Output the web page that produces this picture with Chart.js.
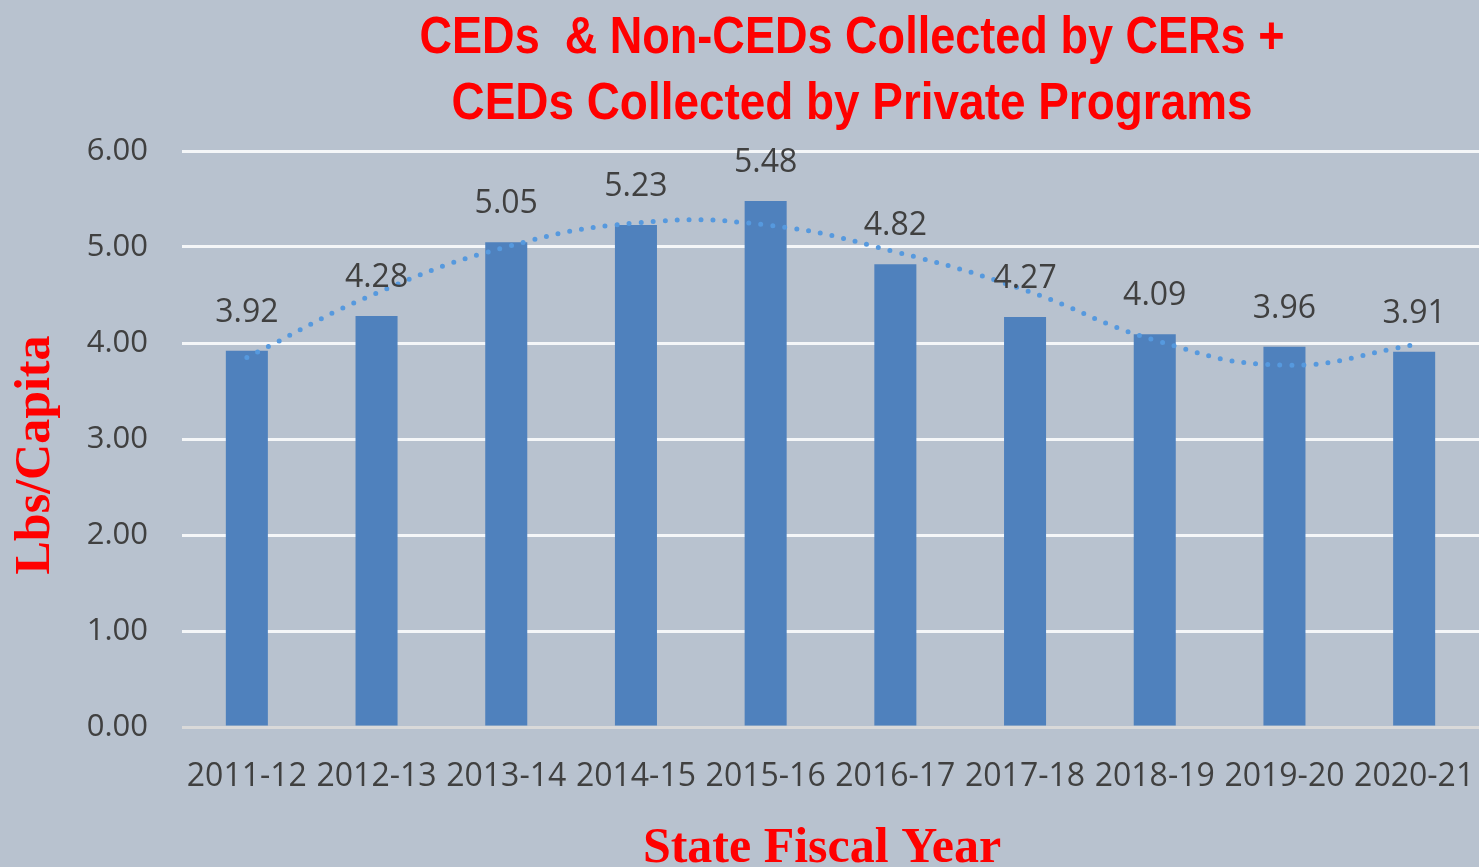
<!DOCTYPE html>
<html>
<head>
<meta charset="utf-8">
<script src="https://cdn.jsdelivr.net/npm/chart.js@4.4.1/dist/chart.umd.min.js"></script>
<style>
    html, body { margin: 0; padding: 0; background: #b8c2cf; }
    #wrap { width: 1479px; height: 867px; position: relative; }
</style>
</head>
<body>
<div id="wrap"><canvas id="cedChart"></canvas></div>
<script>
        // Data
        const fiscalYears = ['2011-12', '2012-13', '2013-14', '2014-15', '2015-16', '2016-17', '2017-18', '2018-19', '2019-20', '2020-21'];
        const lbsPerCapita = [3.92, 4.28, 5.05, 5.23, 5.48, 4.82, 4.27, 4.09, 3.96, 3.91];
        // polynomial trendline at each year
        const trendValues = [3.85, 4.52, 5.00, 5.25, 5.23, 4.95, 4.55, 4.03, 3.77, 3.98];
        const yTicks = [0, 1, 2, 3, 4, 5, 6];

        const titleLines = ['CEDs  & Non-CEDs Collected by CERs +', 'CEDs Collected by Private Programs'];
        const yTitle = 'Lbs/Capita';
        const xTitle = 'State Fiscal Year';

        const RED = '#ff0000';
        const TEXT = '#404040';

        // Background fill
        const bgPlugin = {
            id: 'bg',
            beforeDraw(chart) {
                const ctx = chart.ctx;
                ctx.save();
                ctx.fillStyle = '#b8c2cf';
                ctx.fillRect(0, 0, chart.width, chart.height);
                ctx.restore();
            }
        };

        // Titles (main + axis), drawn by hand so they sit where the original has them
        const titlesPlugin = {
            id: 'titles',
            afterDraw(chart) {
                const ctx = chart.ctx;
                ctx.save();
                ctx.fillStyle = RED;
                ctx.textAlign = 'center';
                ctx.textBaseline = 'alphabetic';

                // main title, squeezed to the original width if the font runs wide
                ctx.font = 'bold 52px "Liberation Sans Narrow", "Liberation Sans", sans-serif';
                const targets = [865, 801];
                const baselines = [53, 119];
                titleLines.forEach((line, i) => {
                    const w = ctx.measureText(line).width;
                    const sx = Math.min(1, targets[i] / w);
                    ctx.save();
                    ctx.translate(852, baselines[i]);
                    ctx.scale(sx, 1);
                    ctx.fillText(line, 0, 0);
                    ctx.restore();
                });

                ctx.font = 'bold 50px "Liberation Serif", "Times New Roman", serif';
                // x axis title
                ctx.fillText(xTitle, 822, 862);
                // y axis title
                ctx.save();
                ctx.translate(49, 455);
                ctx.rotate(-Math.PI / 2);
                ctx.fillText(yTitle, 0, 0);
                ctx.restore();
                ctx.restore();
            }
        };

        // Value labels above the bars
        const valueLabels = {
            id: 'valueLabels',
            afterDatasetsDraw(chart) {
                const ctx = chart.ctx;
                const meta = chart.getDatasetMeta(0);
                ctx.save();
                ctx.font = '32px "Open Sans", sans-serif';
                ctx.fillStyle = TEXT;
                ctx.textAlign = 'center';
                ctx.textBaseline = 'alphabetic';
                meta.data.forEach((bar, i) => {
                    ctx.fillText(lbsPerCapita[i].toFixed(2), bar.x, bar.y - 29);
                });
                ctx.restore();
            }
        };

        const ctx = document.getElementById('cedChart').getContext('2d');
        new Chart(ctx, {
            data: {
                labels: fiscalYears,
                datasets: [
                    {
                        type: 'bar',
                        label: 'Lbs/Capita',
                        data: lbsPerCapita,
                        backgroundColor: '#4f81bd',
                        categoryPercentage: 1,
                        barPercentage: 0.324,
                        order: 2
                    },
                    {
                        type: 'line',
                        label: 'Trend',
                        data: trendValues,
                        borderColor: '#5699de',
                        borderWidth: 5,
                        borderDash: [0, 12],
                        borderCapStyle: 'round',
                        tension: 0.45,
                        pointRadius: 0,
                        fill: false,
                        order: 1
                    }
                ]
            },
            options: {
                responsive: true,
                maintainAspectRatio: false,
                animation: false,
                layout: { padding: { top: 151, left: 0, right: 0, bottom: 0 } },
                plugins: {
                    legend: { display: false },
                    tooltip: { enabled: false },
                    title: { display: false }
                },
                scales: {
                    x: {
                        grid: { display: false },
                        border: { display: false },
                        ticks: {
                            color: TEXT,
                            font: { family: 'Open Sans', size: 32 },
                            autoSkip: false,
                            maxRotation: 0,
                            minRotation: 0,
                            padding: 23
                        },
                        afterFit(scale) {
                            scale.height = 140;
                            // plot runs right up to the canvas edge
                            scale.paddingLeft = 0;
                            scale.paddingRight = 0;
                        }
                    },
                    y: {
                        min: 0,
                        max: 6,
                        afterBuildTicks(scale) { scale.ticks = yTicks.map(v => ({ value: v })); },
                        grid: {
                            drawTicks: false,
                            lineWidth: 3,
                            color: c => c.index === 0 ? '#d9d9d9' : '#f4f6f8'
                        },
                        border: { display: false },
                        ticks: {
                            color: TEXT,
                            font: { family: 'Open Sans', size: 31 },
                            padding: 34,
                            callback: v => Number(v).toFixed(2)
                        },
                        afterFit(scale) { scale.width = 182; }
                    }
                }
            },
            plugins: [bgPlugin, titlesPlugin, valueLabels]
        });
</script>
</body>
</html>
